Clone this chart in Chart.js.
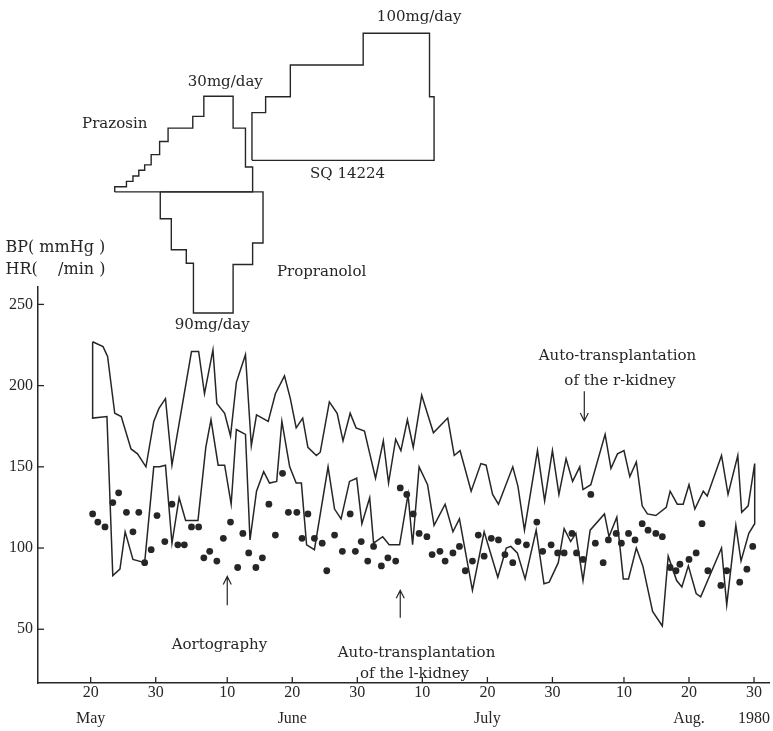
<!DOCTYPE html>
<html>
<head>
<meta charset="utf-8">
<script src="https://cdn.jsdelivr.net/npm/chart.js@4.4.1/dist/chart.umd.min.js"></script>
<style>
  body { margin: 0; background: #fff; }
</style>
</head>
<body>
<canvas id="chart" width="773" height="731"></canvas>
<script>
// days counted from May 20, 1980
const tickDays = [0, 10, 21, 31, 41, 51, 61, 71, 82, 92, 102];
const tickLabels = ["20", "30", "10", "20", "30", "10", "20", "30", "10", "20", "30"];
const monthLabels = ["May", "", "", "June", "", "", "July", "", "", "Aug.", "1980"];
const yTicks = [50, 100, 150, 200, 250];

// systolic BP (upper line)
const sysDays = [0.3, 1.9, 2.6, 3.7, 4.7, 6.2, 7.2, 8.5, 9.7, 10.5, 11.5, 12.5, 15.5, 16.6, 17.5, 18.8, 19.4, 20.6, 21.5, 22.4,
  23.8, 24.7, 25.5, 27.3, 28.4, 29.8, 30.7, 31.6, 32.6, 33.4, 34.7, 35.3, 36.7, 37.9, 38.8, 39.9, 40.8, 42.1, 42.8, 43.8,
  45.0, 45.8, 46.9, 47.7, 48.7, 49.6, 50.9, 52.7, 54.9, 55.9, 56.8, 58.5, 60.0, 60.8, 61.8, 62.7, 64.9, 65.7, 66.7, 68.7,
  69.8, 71.0, 72.0, 73.1, 74.1, 75.2, 75.7, 76.9, 79.1, 80.0, 81.0, 82.0, 82.9, 83.9, 84.8, 85.6, 86.9, 88.5, 89.1, 90.2,
  91.1, 92.0, 92.9, 94.2, 94.8, 97.0, 98.0, 99.5, 100.1, 101.1, 102.1];
const sysVals = [227, 224, 218, 183, 181, 161, 158, 150, 178, 186, 192, 151, 221, 221, 195, 222, 189, 183, 169, 202,
  219, 163, 182, 178, 195, 206, 192, 174, 180, 162, 157, 159, 190, 183, 166, 183, 174, 172, 160, 143,
  166, 140, 167, 160, 179, 162, 194, 171, 180, 157, 160, 135, 152, 151, 133, 127, 150, 138, 111, 160,
  129, 160, 133, 155, 141, 150, 136, 139, 170, 149, 158, 160, 144, 153, 126, 121, 120, 125, 135, 127,
  127, 139, 124, 135, 132, 157, 133, 157, 122, 126, 152];

// diastolic BP (lower line)
const diaDays = [0.3, 2.5, 3.4, 4.5, 5.3, 6.5, 8.3, 9.7, 10.6, 11.5, 12.5, 13.6, 14.6, 16.5, 17.7, 18.5, 19.6, 20.6, 21.6, 22.4,
  23.8, 24.5, 25.5, 26.6, 27.5, 28.6, 29.4, 30.6, 31.6, 32.4, 33.2, 34.4, 36.5, 37.5, 38.5, 39.8, 40.9, 41.7, 42.9, 43.5,
  44.9, 45.9, 47.5, 48.8, 49.5, 50.5, 51.8, 52.8, 54.5, 55.7, 56.7, 58.7, 60.5, 62.6, 63.9, 64.6, 65.6, 66.8, 68.5, 69.7,
  70.5, 71.9, 72.8, 73.8, 74.6, 75.7, 76.8, 79.0, 79.7, 80.9, 81.9, 82.7, 83.9, 84.9, 86.4, 87.9, 88.8, 90.1, 90.9, 91.9,
  93.1, 93.8, 97.0, 97.8, 99.2, 100.0, 101.2, 102.1];
const diaVals = [180, 181, 83, 87, 110, 93, 91, 150, 150, 151, 103, 131, 117, 117, 162, 179, 151, 151, 127, 173,
  170, 105, 135, 147, 140, 141, 178, 150, 140, 140, 102, 99, 150, 124, 118, 141, 143, 115, 131, 103,
  107, 102, 102, 133, 102, 150, 139, 114, 127, 110, 118, 74, 110, 82, 100, 101, 97, 81, 111, 78,
  79, 91, 112, 104, 109, 80, 111, 121, 107, 119, 81, 81, 100, 89, 61, 52, 95, 80, 76, 89,
  72, 70, 100, 65, 114, 92, 109, 115];

// heart rate (dots)
const hrDays = [0.3, 1.1, 2.2, 3.4, 4.3, 5.5, 6.5, 7.4, 8.3, 9.3, 10.2, 11.4, 12.5, 13.4, 14.4, 15.5, 16.6, 17.4, 18.3, 19.4,
  20.4, 21.5, 22.6, 23.4, 24.3, 25.4, 26.4, 27.4, 28.4, 29.5, 30.4, 31.7, 32.5, 33.4, 34.4, 35.6, 36.3, 37.5, 38.7, 39.9,
  40.7, 41.6, 42.6, 43.5, 44.7, 45.7, 46.9, 47.6, 48.6, 49.6, 50.5, 51.7, 52.5, 53.7, 54.5, 55.7, 56.7, 57.6, 58.7, 59.6,
  60.5, 61.6, 62.7, 63.7, 64.9, 65.7, 67.0, 68.6, 69.5, 70.8, 71.8, 72.8, 74.0, 74.7, 75.7, 76.9, 77.6, 78.8, 79.6, 80.8,
  81.6, 82.7, 83.7, 84.8, 85.7, 86.9, 87.9, 89.1, 90.0, 90.6, 92.0, 93.1, 94.0, 94.9, 96.9, 97.8, 99.8, 100.9, 101.8];
const hrVals = [121, 116, 113, 128, 134, 122, 110, 122, 91, 99, 120, 104, 127, 102, 102, 113, 113, 94, 98, 92,
  106, 116, 88, 109, 97, 88, 94, 127, 108, 146, 122, 122, 106, 121, 106, 103, 86, 108, 98, 121,
  98, 104, 92, 101, 89, 94, 92, 137, 133, 121, 109, 107, 96, 98, 92, 97, 101, 86, 92, 108,
  95, 106, 105, 96, 91, 104, 102, 116, 98, 102, 97, 97, 109, 97, 93, 133, 103, 91, 105, 109,
  103, 109, 105, 115, 111, 109, 107, 88, 86, 90, 93, 97, 115, 86, 77, 86, 79, 87, 101];

// drug schedules (start day of each dose level, mg/day)
const prazosinStart = [3.7, 5.5, 6.5, 7.4, 8.3, 9.3, 10.6, 11.9, 15.7, 17.4, 21.9, 23.8];
const prazosinDose = [1.6, 3.3, 5, 6.8, 8.5, 11.7, 15.8, 20, 23.7, 30, 20, 7.8];
const prazosinEnd = 24.9;
const propranololStart = [10.7, 12.4, 14.7, 15.8, 21.9, 24.9];
const propranololDose = [20, 43, 53, 90, 54, 38];
const propranololEnd = 26.5;
const sqStart = [24.8, 26.9, 30.7, 41.9, 52.1];
const sqDose = [37.5, 50, 75, 100, 50];
const sqEnd = 52.8;

const ink = "#262626";
const serif = "'DejaVu Serif', serif";

function doseSteps(starts, doses, end) {
  const pts = [{ x: starts[0], y: 0 }];
  starts.forEach((s, i) => pts.push({ x: s, y: doses[i] }));
  pts.push({ x: end, y: 0 });
  pts.push({ x: starts[0], y: 0 });
  return pts;
}

// outline: systolic forward, diastolic back, closed at both ends
const bpOutline = sysDays.map((d, i) => ({ x: d, y: sysVals[i] }))
  .concat(diaDays.map((d, i) => ({ x: d, y: diaVals[i] })).reverse());
bpOutline.push({ x: sysDays[0], y: sysVals[0] });

const notes = [
  { text: "Prazosin", axis: "yPra", x: 3.7, y: 21.3 },
  { text: "30mg/day", axis: "yPra", x: 20.7, y: 34.4 },
  { text: "100mg/day", axis: "ySq", x: 50.5, y: 112.3 },
  { text: "SQ 14224", axis: "ySq", x: 39.5, y: -10.7 },
  { text: "Propranolol", axis: "yPro", x: 35.5, y: 59.3 },
  { text: "90mg/day", axis: "yPro", x: 18.7, y: 99.3 },
  { text: "BP( mmHg )", axis: "y", x: -13.1, y: 285, align: "left", size: 16 },
  { text: "HR(    /min )", axis: "y", x: -13.1, y: 271.5, align: "left", size: 16 },
  { text: "Auto-transplantation", axis: "y", x: 81, y: 218 },
  { text: "of the r-kidney", axis: "y", x: 81.4, y: 202.8 },
  { text: "Aortography", axis: "y", x: 19.8, y: 40.2 },
  { text: "Auto-transplantation", axis: "y", x: 50.1, y: 35.6 },
  { text: "of the l-kidney", axis: "y", x: 49.8, y: 22.4 }
];
const arrows = [
  { x: 75.9, from: 196.6, to: 178.2 },
  { x: 21.0, from: 64.7, to: 82.5 },
  { x: 47.6, from: 57, to: 74 }
];

const notesPlugin = {
  id: "notes",
  afterDraw(chart) {
    const ctx = chart.ctx;
    const xs = chart.scales.x;
    const ys = chart.scales.y;
    const area = chart.chartArea;
    ctx.save();
    // inner tick marks
    ctx.strokeStyle = ink;
    ctx.lineWidth = 1.3;
    yTicks.forEach((v) => {
      const py = ys.getPixelForValue(v);
      ctx.beginPath();
      ctx.moveTo(area.left, py);
      ctx.lineTo(area.left + 6, py);
      ctx.stroke();
    });
    tickDays.forEach((d) => {
      const px = xs.getPixelForValue(d);
      ctx.beginPath();
      ctx.moveTo(px, area.bottom);
      ctx.lineTo(px, area.bottom - 6);
      ctx.stroke();
    });
    // texts
    ctx.fillStyle = ink;
    ctx.textBaseline = "middle";
    notes.forEach((n) => {
      ctx.font = (n.size || 15) + "px " + serif;
      ctx.textAlign = n.align || "center";
      ctx.fillText(n.text, xs.getPixelForValue(n.x), chart.scales[n.axis].getPixelForValue(n.y));
    });
    // arrows
    ctx.lineWidth = 1.2;
    arrows.forEach((a) => {
      const px = xs.getPixelForValue(a.x);
      const p0 = ys.getPixelForValue(a.from);
      const p1 = ys.getPixelForValue(a.to);
      const dir = p1 > p0 ? -1 : 1;
      ctx.beginPath();
      ctx.moveTo(px, p0);
      ctx.lineTo(px, p1);
      ctx.moveTo(px - 4, p1 + dir * 8);
      ctx.lineTo(px, p1);
      ctx.lineTo(px + 4, p1 + dir * 8);
      ctx.stroke();
    });
    ctx.restore();
  }
};

const drugLine = {
  borderColor: ink,
  borderWidth: 1.4,
  pointRadius: 0,
  stepped: true,
  tension: 0
};

new Chart(document.getElementById("chart"), {
  type: "line",
  data: {
    datasets: [
      { data: bpOutline, yAxisID: "y", borderColor: ink, borderWidth: 1.5, pointRadius: 0, tension: 0 },
      {
        data: hrDays.map((d, i) => ({ x: d, y: hrVals[i] })),
        yAxisID: "y", showLine: false, pointRadius: 3.4, pointBorderWidth: 0,
        pointBackgroundColor: ink
      },
      Object.assign({ data: doseSteps(prazosinStart, prazosinDose, prazosinEnd), yAxisID: "yPra" }, drugLine),
      Object.assign({ data: doseSteps(propranololStart, propranololDose, propranololEnd), yAxisID: "yPro" }, drugLine),
      Object.assign({ data: doseSteps(sqStart, sqDose, sqEnd), yAxisID: "ySq" }, drugLine)
    ]
  },
  options: {
    responsive: false,
    animation: false,
    layout: { padding: { top: 12, right: 3, left: 0, bottom: 0 } },
    plugins: { legend: { display: false }, tooltip: { enabled: false } },
    scales: {
      x: {
        type: "linear",
        min: -8.1,
        max: 104.3,
        grid: { display: false, drawTicks: false },
        border: { color: ink, width: 1.5 },
        afterBuildTicks: (s) => { s.ticks = tickDays.map((v) => ({ value: v })); },
        afterFit: (s) => { s.height = 48; },
        ticks: {
          autoSkip: false,
          maxRotation: 0,
          padding: -3,
          color: ink,
          font: { family: "'Liberation Serif', serif", size: 16, lineHeight: 1.62 },
          callback: (v, i) => monthLabels[i] ? [tickLabels[i], monthLabels[i]] : tickLabels[i]
        }
      },
      y: {
        type: "linear",
        position: "left",
        stack: "v",
        stackWeight: 398,
        min: 16.9,
        max: 261,
        grid: { display: false, drawTicks: false },
        border: { color: ink, width: 1.5 },
        afterBuildTicks: (s) => { s.ticks = yTicks.map((v) => ({ value: v })); },
        afterFit: (s) => { s.width = 38; },
        ticks: {
          padding: 5,
          color: ink,
          font: { family: "'Liberation Serif', serif", size: 16 }
        }
      },
      ytop: { type: "linear", position: "left", display: false, stack: "v", stackWeight: 273 },
      yPra: { type: "linear", position: "left", display: false, min: -154.06, max: 55.63 },
      yPro: { type: "linear", position: "left", display: false, reverse: true, min: -131.85, max: 365.19 },
      ySq: { type: "linear", position: "left", display: false, min: -411.21, max: 114.66 }
    }
  },
  plugins: [notesPlugin]
});
</script>
</body>
</html>
